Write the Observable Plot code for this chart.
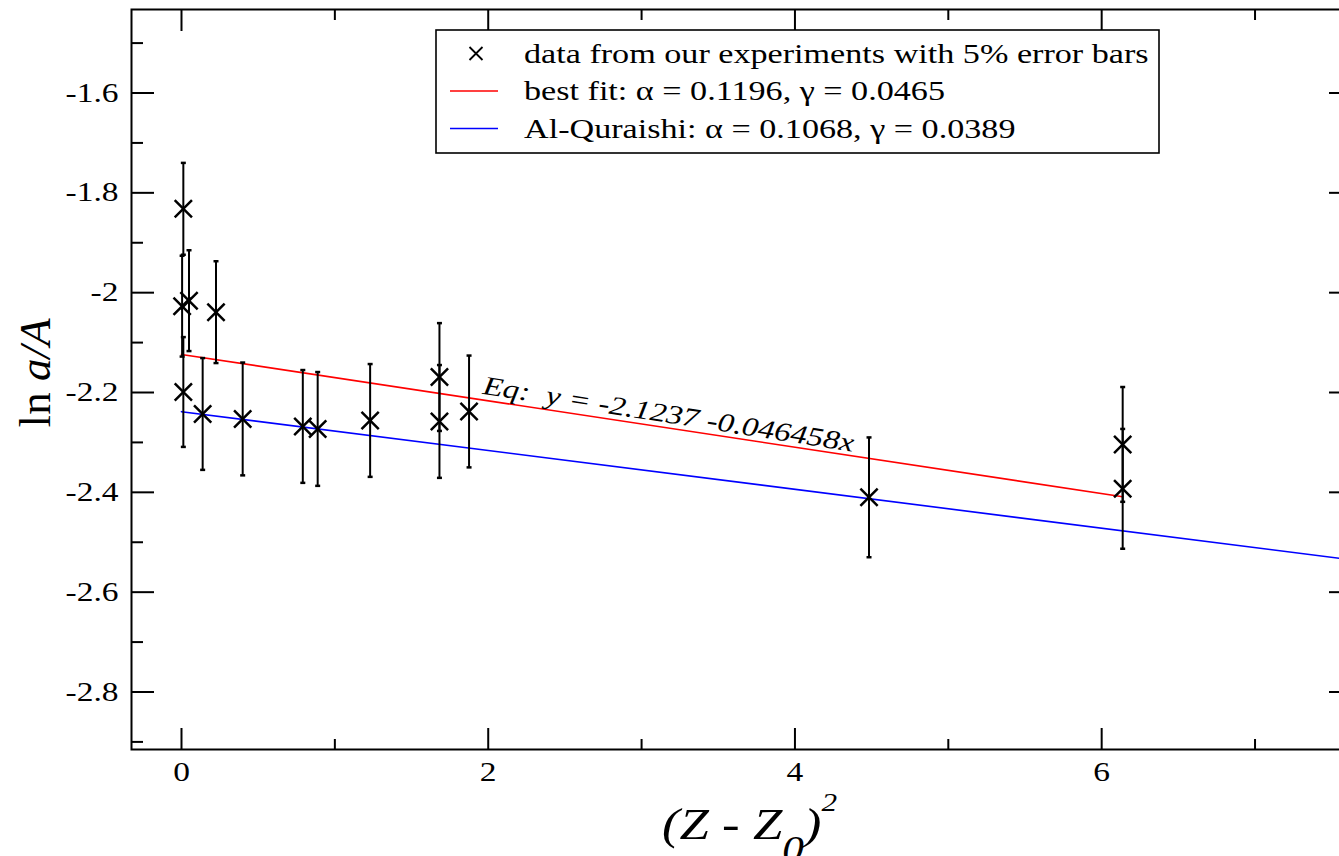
<!DOCTYPE html>
<html><head><meta charset="utf-8">
<script src="https://cdn.jsdelivr.net/npm/d3@7"></script>
<script src="https://cdn.jsdelivr.net/npm/@observablehq/plot@0.6"></script>
<style>
html,body{margin:0;padding:0;background:#fff;overflow:hidden;width:1339px;height:856px;}
#chart{position:relative;width:1339px;height:856px;overflow:hidden;}
#chart svg{display:block;max-width:none !important;}
</style></head><body><div id="chart"></div>
<script>
// ---- data ----
const zSq   = [0.012, 0.004, 0.049, 0.225, 0.012, 0.138, 0.399, 0.791, 0.888, 1.230, 1.682, 1.682, 1.875, 4.483, 6.137, 6.137];
const lnaA  = [-1.832, -2.027, -2.016, -2.039, -2.199, -2.243, -2.253, -2.268, -2.273, -2.256, -2.169, -2.258, -2.238, -2.410, -2.304, -2.393];
const errBar = [0.092, 0.101, 0.101, 0.102, 0.110, 0.112, 0.113, 0.113, 0.114, 0.113, 0.108, 0.113, 0.112, 0.120, 0.115, 0.120];
const fitX = [0, 6.137];
const fitY = [-2.1237, -2.4088];
const quraishiX = [0, 7.63];
const quraishiY = [-2.2384, -2.5352];
const xMajorTicks = [0, 2, 4, 6];
const xMinorTicks = [1, 3, 5, 7];
const xTickLabels = ["0", "2", "4", "6"];
const yMajorTicks = [-1.6, -1.8, -2, -2.2, -2.4, -2.6, -2.8];
const yMinorTicks = [-1.5, -1.7, -1.9, -2.1, -2.3, -2.5, -2.7, -2.9];
const yTickLabels = ["-1.6", "-1.8", "-2", "-2.2", "-2.4", "-2.6", "-2.8"];
const legendLabels = [
  "data from our experiments with 5% error bars",
  "best fit: \u03b1 = 0.1196, \u03b3 = 0.0465",
  "Al-Quraishi: \u03b1 = 0.1068, \u03b3 = 0.0389"
];
const legendColors = ["black", "red", "blue"];
const eqNote = [{x: 1.968, y: -2.1855, text: "Eq:\u00a0\u00a0y = -2.1237 -0.046458x"}];

// ---- tables built from the arrays ----
const points = zSq.map((x, i) => ({x, y: lnaA[i], e: errBar[i]}));
const fitLine = fitX.map((x, i) => ({x, y: fitY[i]}));
const quraishiLine = quraishiX.map((x, i) => ({x, y: quraishiY[i]}));
const xLabelMap = new Map(xMajorTicks.map((v, i) => [v, xTickLabels[i]]));
const yLabelMap = new Map(yMajorTicks.map((v, i) => [v, yTickLabels[i]]));

const capSymbol = {draw(ctx, size) { const w = Math.sqrt(size / Math.PI); ctx.moveTo(-w, 0); ctx.lineTo(w, 0); }};

const chart = Plot.plot({
  width: 1360, height: 856,
  marginLeft: 131, marginRight: 9, marginTop: 9, marginBottom: 107,
  x: {domain: [-0.326, 7.629]},
  y: {domain: [-2.9152, -1.4327]},
  style: {fontFamily: "'Liberation Serif', 'Times New Roman', serif", fontSize: "27px", color: "black", background: "white", maxWidth: "none"},
  marks: [
    Plot.line(fitLine, {x: "x", y: "y", stroke: "red", strokeWidth: 1.6}),
    Plot.line(quraishiLine, {x: "x", y: "y", stroke: "blue", strokeWidth: 1.6, clip: true}),
    Plot.ruleX(points, {x: "x", y1: d => d.y - d.e, y2: d => d.y + d.e, stroke: "black", strokeWidth: 2}),
    Plot.dot(points, {x: "x", y: d => d.y + d.e, symbol: capSymbol, r: 2.5, stroke: "black", strokeWidth: 2.5}),
    Plot.dot(points, {x: "x", y: d => d.y - d.e, symbol: capSymbol, r: 2.5, stroke: "black", strokeWidth: 2.5}),
    Plot.dot(points, {x: "x", y: "y", symbol: "times", r: 7.9, stroke: "black", strokeWidth: 2.5}),
    Plot.text(eqNote, {x: "x", y: "y", text: "text", rotate: 8.9, textAnchor: "start", fontStyle: "italic", fontSize: 26.5}),
    // inward ticks on all four sides
    Plot.axisX(xMajorTicks, {anchor: "bottom", tickSize: -21, strokeWidth: 2, fill: "none", label: null}),
    Plot.axisX(xMinorTicks, {anchor: "bottom", tickSize: -10, strokeWidth: 2, fill: "none", label: null}),
    Plot.axisX(xMajorTicks, {anchor: "top", tickSize: -21, strokeWidth: 2, fill: "none", label: null}),
    Plot.axisX(xMinorTicks, {anchor: "top", tickSize: -10, strokeWidth: 2, fill: "none", label: null}),
    Plot.axisY(yMajorTicks, {anchor: "left", tickSize: -23, strokeWidth: 2, fill: "none", label: null}),
    Plot.axisY(yMinorTicks, {anchor: "left", tickSize: -12, strokeWidth: 2, fill: "none", label: null}),
    Plot.axisY(yMajorTicks, {anchor: "right", tickSize: -23, strokeWidth: 2, fill: "none", label: null}),
    Plot.axisY(yMinorTicks, {anchor: "right", tickSize: -12, strokeWidth: 2, fill: "none", label: null}),
    // tick labels
    Plot.axisX(xMajorTicks, {anchor: "bottom", tickSize: 0, tickPadding: 12, tickFormat: d => xLabelMap.get(d), label: null}),
    Plot.axisY(yMajorTicks, {anchor: "left", tickSize: 0, tickPadding: 13, tickFormat: d => yLabelMap.get(d), label: null}),
    Plot.frame({strokeWidth: 2})
  ]
});
chart.style.maxWidth = "none";

// horizontal stretch of the glyphs, as in the reference (appended after Plot's own translate/rotate)
chart.querySelectorAll("text").forEach(t => {
  const tr = t.getAttribute("transform") || "";
  t.setAttribute("transform", `${tr} scale(1.24,1)`.trim());
});

document.getElementById("chart").appendChild(chart);
const svg = d3.select(chart);
const serif = "'Liberation Serif', 'Times New Roman', serif";

// axis titles
const yl = svg.append("text")
  .attr("transform", "translate(50,373) rotate(-90)")
  .attr("text-anchor", "middle").attr("font-family", serif).attr("font-size", 45).attr("fill", "black");
yl.append("tspan").text("ln ");
yl.append("tspan").attr("font-style", "italic").text("a/A");

const xl = svg.append("text")
  .attr("transform", "translate(662,839) scale(1.2,1)")
  .attr("text-anchor", "start")
  .attr("font-family", serif).attr("font-size", 44).attr("font-style", "italic").attr("fill", "black");
xl.append("tspan").text("(Z - Z");
xl.append("tspan").attr("font-size", 36).attr("dy", 22).text("0");
xl.append("tspan").attr("dy", -22).text(")");
xl.append("tspan").attr("font-size", 26).attr("dy", -28).text("2");

// legend
const lg = svg.append("g").attr("font-family", serif).attr("font-size", 27).attr("fill", "black").attr("text-anchor", "start");
lg.append("rect").attr("x", 436).attr("y", 30).attr("width", 723).attr("height", 123)
  .attr("fill", "white").attr("stroke", "black").attr("stroke-width", 1.6);
const rowY = [53.5, 91, 128.5];
legendLabels.forEach((label, i) => {
  if (i === 0) {
    lg.append("path").attr("transform", `translate(476,${rowY[i]})`)
      .attr("d", "M-6.5,-6.5L6.5,6.5M-6.5,6.5L6.5,-6.5").attr("stroke", legendColors[i]).attr("stroke-width", 1.8).attr("fill", "none");
  } else {
    lg.append("line").attr("x1", 450).attr("x2", 498).attr("y1", rowY[i]).attr("y2", rowY[i])
      .attr("stroke", legendColors[i]).attr("stroke-width", 1.6);
  }
  lg.append("text").attr("text-anchor", "start").attr("transform", `translate(524,${rowY[i] + 9}) scale(1.265,1)`).text(label);
});
</script>
</body></html>
